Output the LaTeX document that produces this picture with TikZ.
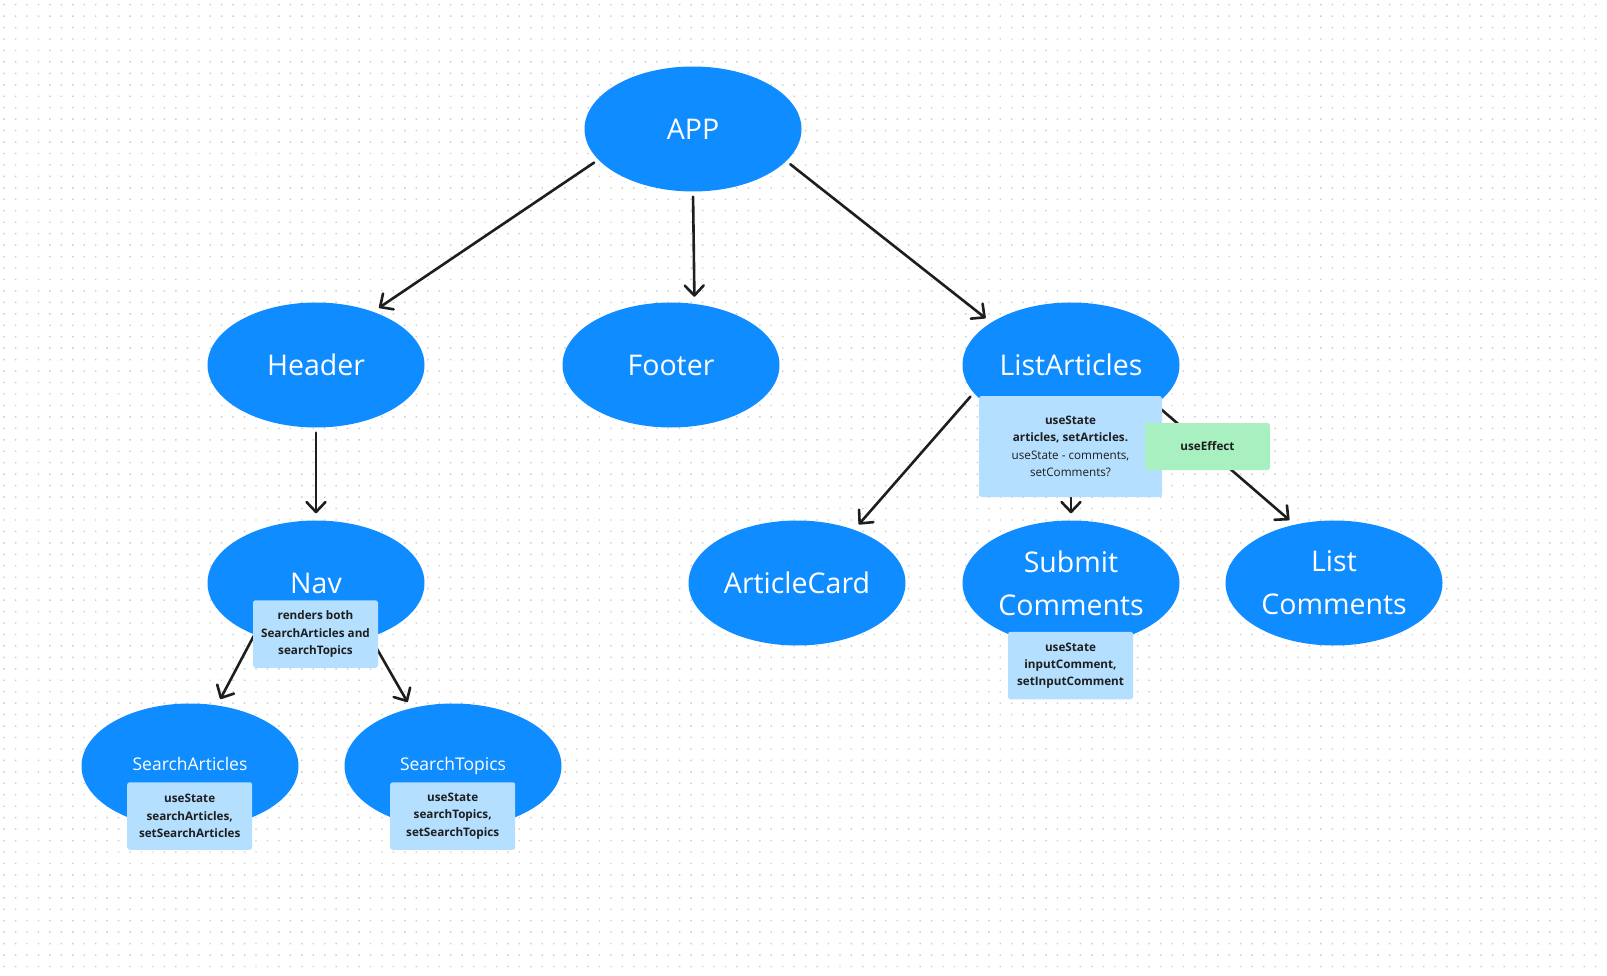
\documentclass[tikz,border=0pt]{standalone}
\usepackage{fontspec}
\setmainfont{Open Sans}
\usetikzlibrary{shapes.geometric,arrows.meta}
\definecolor{figblue}{RGB}{15,140,255}
\definecolor{noteblue}{RGB}{180,223,255}
\definecolor{notegreen}{RGB}{168,240,192}
\definecolor{darktext}{RGB}{30,30,30}
\definecolor{dotc}{RGB}{205,205,205}
\tikzset{
  comp/.style={ellipse, fill=figblue, text=white, minimum width=217, minimum height=125, inner sep=0,
    font=\fontsize{28.5}{43}\selectfont, align=center},
  smallcomp/.style={comp, font=\fontsize{17.5}{22}\selectfont, text height=12.5pt, text depth=4.5pt},
  note/.style={fill=noteblue, rounded corners=2.5, text=darktext, inner sep=0, align=center,
    minimum width=125, minimum height=67.5, font=\fontsize{11.7}{17.2}\selectfont\bfseries},
  arr/.style={draw=darktext, line width=2.6, line cap=round,
    -{Straight Barb[length=10pt,width=19pt,line width=2.6pt,round]}},
  gap/.style={shorten <=5pt, shorten >=7pt}
}
\begin{document}
\begin{tikzpicture}[x=1pt,y=-1pt]
\useasboundingbox (0,0) rectangle (1607,976);
\fill[white] (0,0) rectangle (1607,976);
\foreach \j in {0,...,84} {
  \fill[dotc] \foreach \i in {0,...,139} { ({3.4+\i*11.45},{5.4+\j*11.45}) rectangle ++(1.4,-1.4) };
}

% components
\node[comp] (app) at (693,129) {APP};
\node[comp] (header) at (316,365) {Header};
\node[comp] (footer) at (671,365) {Footer};
\node[comp] (la) at (1071,365) {ListArticles};
\node[comp] (nav) at (316,583) {Nav};
\node[comp] (ac) at (797,583) {ArticleCard};
\node[comp] (sc) at (1071,583) {Submit\\Comments};
\node[comp] (lc) at (1334,583) {List\\Comments};
\node[smallcomp] (sa) at (190,766) {SearchArticles};
\node[smallcomp] (st) at (453,766) {SearchTopics};

% connectors
\draw[arr,gap] (app.198) -- (header.43);
\draw[arr,gap] (app.south) -- (footer.69);
\draw[arr,gap] (app.-19) -- (la.152);
\draw[arr,gap] (header.south) -- (nav.north);
\draw[arr,shorten >=7pt] (nav.220) -- (sa.66);
\draw[arr,shorten >=7pt] (nav.-45) -- (st.126);
\draw[arr,gap] (la.196) -- (ac.43);
\draw[arr,shorten >=7pt] (la.south) -- (sc.north);
\draw[arr,shorten >=7pt] (la.-25) -- (lc.124);

% notes
\node[note, minimum width=183, minimum height=101, font=\fontsize{11.7}{17.4}\selectfont] (lanote) at (1070.5,446.5)
  {\textbf{useState}\\\textbf{articles, setArticles.}\\useState - comments,\\setComments?};
\node[note, fill=notegreen, minimum height=47] (ue) at (1207.5,446.5) {useEffect};
\node[note] (navnote) at (315.5,634) {renders both\\SearchArticles and\\searchTopics};
\node[note] (sanote) at (189.7,816) {useState\\searchArticles,\\setSearchArticles};
\node[note] (stnote) at (452.7,816) {useState\\searchTopics,\\setSearchTopics};
\node[note] (scnote) at (1070.5,665.5) {useState\\inputComment,\\setInputComment};
\end{tikzpicture}
\end{document}
